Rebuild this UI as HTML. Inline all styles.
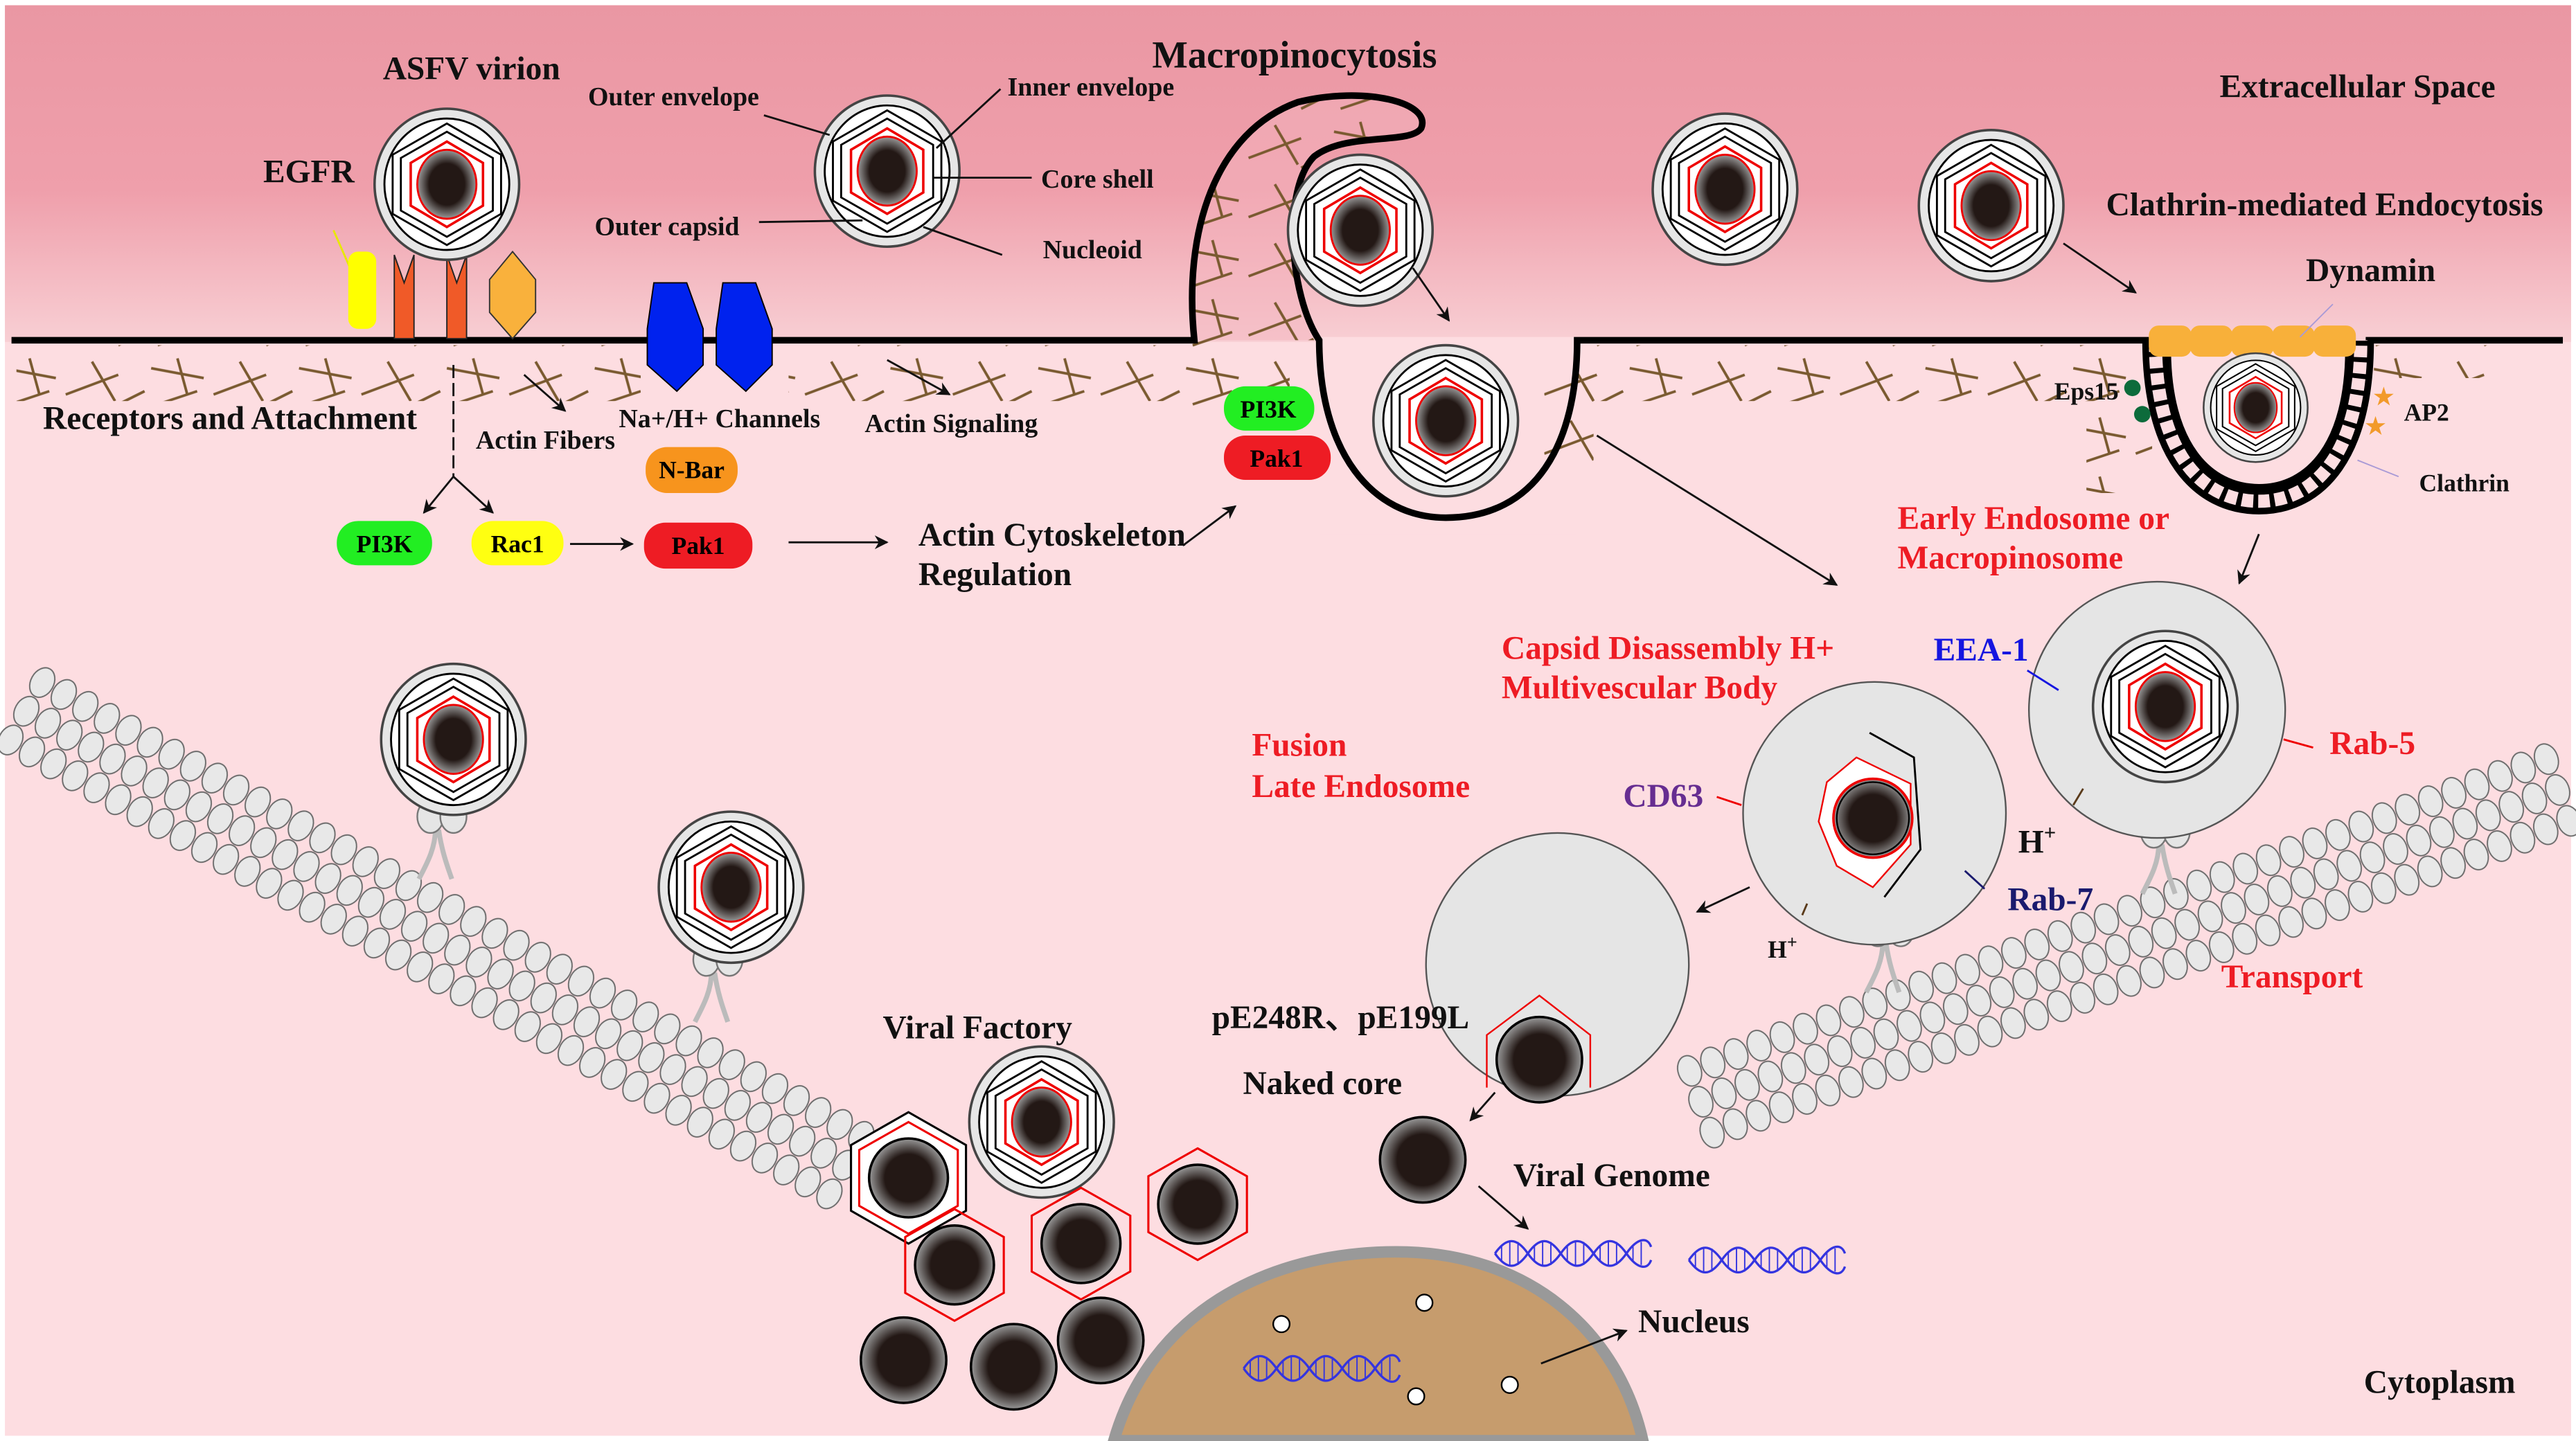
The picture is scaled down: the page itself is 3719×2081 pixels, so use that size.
<!DOCTYPE html>
<html><head><meta charset="utf-8"><style>
html,body{margin:0;padding:0;background:#fff;}
svg{display:block;}
text{font-family:"Liberation Serif",serif;font-weight:bold;}
</style></head><body>
<svg width="3719" height="2081" viewBox="0 0 1568 877" xmlns="http://www.w3.org/2000/svg">
<defs>
<linearGradient id="bgTop" x1="0" y1="0" x2="0" y2="1">
<stop offset="0" stop-color="#ea97a3"/><stop offset="0.55" stop-color="#ef9fab"/><stop offset="1" stop-color="#f8cfd4"/>
</linearGradient>
<radialGradient id="core" cx="0.5" cy="0.5" r="0.5">
<stop offset="0" stop-color="#231815"/><stop offset="0.6" stop-color="#231815"/><stop offset="1" stop-color="#9a9a9a"/>
</radialGradient>
<pattern id="actin" width="90" height="36" patternUnits="userSpaceOnUse">
<g stroke="#7a5a30" stroke-width="1.6" fill="none">
<line x1="2" y1="8" x2="34" y2="14"/><line x1="18" y1="2" x2="24" y2="24"/><line x1="40" y1="24" x2="72" y2="12"/>
<line x1="56" y1="4" x2="70" y2="28"/><line x1="6" y1="30" x2="30" y2="22"/><line x1="72" y1="30" x2="88" y2="22"/>
</g>
</pattern>
<pattern id="mt" width="15" height="20" patternUnits="userSpaceOnUse">
<ellipse cx="7.5" cy="10" rx="7" ry="9.5" fill="#e8e8e8" stroke="#6a6a6a" stroke-width="0.8"/>
</pattern>
<clipPath id="armclip"><path d="M727,207 C720,140 740,80 790,62 C830,52 872,62 865,78 C858,88 820,80 800,95 C780,115 785,180 800,207 Z"/></clipPath>
<marker id="ah" viewBox="0 0 10 10" refX="9" refY="5" markerWidth="7" markerHeight="7" orient="auto">
<path d="M0,0 L10,5 L0,10 L3,5 Z" fill="#111"/></marker>
<g id="vir">
<ellipse cx="0" cy="0" rx="44" ry="46" fill="#e6e6e6" stroke="#444" stroke-width="1.5"/>
<ellipse cx="0" cy="0" rx="38" ry="40" fill="#fff" stroke="#000" stroke-width="1.2"/>
<polygon points="0,-37 33,-18 33,18 0,37 -33,18 -33,-18" fill="#fff" stroke="#000" stroke-width="1.2"/>
<polygon points="0,-32 28,-16 28,16 0,32 -28,16 -28,-16" fill="#fff" stroke="#000" stroke-width="1.2"/>
<polygon points="0,-26 22,-13 22,13 0,26 -22,13 -22,-13" fill="#fff" stroke="#e00" stroke-width="1.5"/>
<ellipse cx="0" cy="0" rx="18" ry="21" fill="url(#core)" stroke="#e00" stroke-width="1.2"/>
</g>
<g id="hexcore">
<polygon points="0,-34 30,-17 30,17 0,34 -30,17 -30,-17" fill="none" stroke="#e00" stroke-width="1.3"/>
<circle cx="0" cy="0" r="24" fill="url(#core)" stroke="#000" stroke-width="1.5"/>
</g>
<g id="core1"><circle cx="0" cy="0" r="26" fill="url(#core)" stroke="#000" stroke-width="1.5"/></g>
<g id="motor">
<path d="M-4,0 C-4,12 -10,22 -14,30 M-2,0 C0,14 4,24 6,30" stroke="#bbb" stroke-width="3" fill="none"/>
<ellipse cx="-7" cy="-8" rx="8" ry="10" fill="#e5e5e5" stroke="#777"/>
<ellipse cx="7" cy="-8" rx="8" ry="10" fill="#e5e5e5" stroke="#777"/>
</g>
<g id="dna" stroke="#3434e0" stroke-width="1.4" fill="none">
<path d="M0,0 C7,-10 13,-10 20,0 S33,10 40,0 S53,-10 60,0 S73,10 80,0 S93,-10 95,-4"/>
<path d="M0,0 C7,10 13,10 20,0 S33,-10 40,0 S53,10 60,0 S73,-10 80,0 S93,10 95,4"/>
<path d="M4,-5 v10 M9,-7 v14 M14,-7 v14 M24,-5 v10 M29,-7 v14 M34,-7 v14 M44,-5 v10 M49,-7 v14 M54,-7 v14 M64,-5 v10 M69,-7 v14 M74,-7 v14 M84,-5 v10 M89,-7 v14" stroke-width="0.8"/>
</g>
</defs>

<rect width="1568" height="877" fill="#fff"/>
<rect x="3" y="3" width="1562" height="871" fill="#fddde1"/>
<rect x="3" y="3" width="1562" height="205" fill="url(#bgTop)"/>
<rect x="803" y="205" width="157" height="120" fill="#fddde1"/>

<!-- actin -->
<rect x="10" y="210" width="380" height="34" fill="url(#actin)"/>
<rect x="480" y="210" width="250" height="34" fill="url(#actin)"/>
<rect x="965" y="210" width="335" height="34" fill="url(#actin)"/>
<rect x="1445" y="210" width="80" height="20" fill="url(#actin)"/>
<rect x="725" y="205" width="60" height="45" fill="url(#actin)"/>
<rect x="940" y="225" width="30" height="60" fill="url(#actin)"/>
<rect x="1270" y="250" width="40" height="50" fill="url(#actin)"/>

<!-- macropinocytosis arm fill -->
<path d="M727,207 C720,140 740,80 790,62 C830,52 872,62 865,78 C858,88 820,80 800,95 C780,115 785,180 800,207 Z" fill="#f4b4bd" fill-opacity="0.5"/>
<g clip-path="url(#armclip)"><rect x="720" y="55" width="150" height="155" fill="url(#actin)"/></g>

<!-- membrane -->
<path d="M7,207 H727 C720,140 740,80 790,62 C830,52 872,62 865,78 C858,88 820,80 800,95 C780,115 785,180 803,207 C803,275 835,315 880,315 C935,315 960,270 960,207 H1308 M1440,207 H1560" fill="none" stroke="#000" stroke-width="4"/>
<!-- clathrin pit -->
<path d="M1312,207 C1312,275 1340,305 1375,305 C1410,305 1437,275 1437,207" fill="none" stroke="#000" stroke-width="16"/>
<path d="M1312,207 C1312,275 1340,305 1375,305 C1410,305 1437,275 1437,207" fill="none" stroke="#fddde1" stroke-width="8" stroke-dasharray="7 3"/>
<path d="M1320,212 C1320,270 1345,296 1375,296 C1405,296 1429,270 1429,212" fill="#fddde1" stroke="#000" stroke-width="3"/>
<g fill="#f8b03a">
<rect x="1308" y="198" width="26" height="19" rx="6"/><rect x="1333" y="198" width="26" height="19" rx="6"/>
<rect x="1358" y="198" width="26" height="19" rx="6"/><rect x="1383" y="198" width="26" height="19" rx="6"/><rect x="1408" y="198" width="26" height="19" rx="6"/>
</g>
<circle cx="1298" cy="236" r="5" fill="#0d6b3b"/><circle cx="1304" cy="252" r="5" fill="#0d6b3b"/>
<text x="1451" y="246" font-size="14" fill="#f29a2a" text-anchor="middle">★</text>
<text x="1446" y="264" font-size="14" fill="#f29a2a" text-anchor="middle">★</text>
<line x1="1420" y1="185" x2="1400" y2="205" stroke="#a99ad6" stroke-width="0.8"/>
<line x1="1435" y1="280" x2="1460" y2="290" stroke="#a99ad6" stroke-width="0.8"/>

<!-- receptors -->
<line x1="203" y1="140" x2="214" y2="165" stroke="#e8e800" stroke-width="1.2"/>
<rect x="212" y="153" width="17" height="47" rx="6" fill="#ffff00"/>
<path d="M240,155 L246,172 L252,155 V206 H240 Z" fill="#f05a28" stroke="#222" stroke-width="0.8"/>
<path d="M272,155 L278,172 L284,155 V206 H272 Z" fill="#f05a28" stroke="#222" stroke-width="0.8"/>
<polygon points="312,153 326,170 326,190 312,206 298,190 298,170" fill="#f9b13c" stroke="#333" stroke-width="0.8"/>
<!-- Na/H channels -->
<polygon points="398,172 418,172 428,200 428,222 412,238 394,222 394,200" fill="#0022ee" stroke="#000" stroke-width="0.8"/>
<polygon points="440,172 460,172 470,200 470,222 454,238 436,222 436,200" fill="#0022ee" stroke="#000" stroke-width="0.8"/>

<!-- microtubules -->
<g transform="translate(24,403) rotate(29)"><rect x="0" y="0" width="585" height="60" fill="url(#mt)"/></g>
<g transform="translate(1018,645) rotate(-20)"><rect x="0" y="0" width="570" height="60" fill="url(#mt)"/></g>

<!-- motors -->
<use href="#motor" x="269" y="505"/>
<use href="#motor" x="437" y="592"/>
<use href="#motor" x="1318" y="514"/>
<use href="#motor" x="1150" y="574"/>

<!-- endosomes -->
<circle cx="1313" cy="432" r="78" fill="#e5e5e5" stroke="#555" stroke-width="1"/>
<circle cx="1141" cy="495" r="80" fill="#e5e5e5" stroke="#555" stroke-width="1"/>
<circle cx="948" cy="587" r="80" fill="#e5e5e5" stroke="#555" stroke-width="1"/>
<path d="M1138,446 L1165,461 L1169,517 L1147,546" fill="none" stroke="#000" stroke-width="1.2"/>
<polygon points="1112,476 1130,461 1163,477 1163,514 1140,540 1118,527 1107,500" fill="#fff" stroke="#e00" stroke-width="1"/>
<circle cx="1140" cy="498" r="24" fill="url(#core)" stroke="#e00" stroke-width="1.5"/>
<circle cx="1140" cy="498" r="22" fill="none" stroke="#000" stroke-width="1"/>
<path d="M905,662 V630 L937,606 L968,630 V662" fill="none" stroke="#e00" stroke-width="1"/>
<use href="#core1" x="937" y="645"/>

<!-- virions -->
<use href="#vir" x="272" y="112"/>
<use href="#vir" x="540" y="104"/>
<use href="#vir" x="828" y="140"/>
<use href="#vir" x="880" y="256"/>
<use href="#vir" x="1050" y="115"/>
<use href="#vir" x="1212" y="125"/>
<use href="#vir" transform="translate(1373,248) scale(0.72)"/>
<use href="#vir" x="1318" y="430"/>
<use href="#vir" x="276" y="450"/>
<use href="#vir" x="445" y="540"/>
<use href="#vir" x="634" y="683"/>

<!-- viral factory -->
<polygon points="553,677 588,697 588,737 553,757 518,737 518,697" fill="#fff" stroke="#000" stroke-width="1.3"/>
<use href="#hexcore" x="553" y="717"/>
<use href="#hexcore" x="581" y="770"/>
<use href="#hexcore" x="658" y="757"/>
<use href="#hexcore" x="729" y="733"/>
<use href="#core1" x="550" y="828"/>
<use href="#core1" x="617" y="832"/>
<use href="#core1" x="670" y="816"/>
<use href="#core1" x="866" y="706"/>

<!-- nucleus -->
<path d="M678,877 C700,800 770,762 850,762 C930,762 985,810 1000,877 Z" fill="#c69c6d" stroke="#999" stroke-width="7"/>
<g fill="#fff" stroke="#000" stroke-width="1"><circle cx="780" cy="806" r="5"/><circle cx="867" cy="793" r="5"/><circle cx="862" cy="850" r="5"/><circle cx="919" cy="843" r="5"/></g>
<use href="#dna" x="910" y="763"/>
<use href="#dna" x="1028" y="767"/>
<use href="#dna" x="757" y="833"/>

<!-- connectors -->
<g stroke="#111" stroke-width="1.2" fill="none">
<line x1="465" y1="70" x2="505" y2="82"/>
<line x1="609" y1="54" x2="570" y2="90"/>
<line x1="568" y1="108" x2="628" y2="108"/>
<line x1="462" y1="135" x2="525" y2="134"/>
<line x1="562" y1="138" x2="610" y2="155"/>
<line x1="276" y1="222" x2="276" y2="290" stroke-dasharray="8 3"/>
<line x1="276" y1="290" x2="258" y2="312" marker-end="url(#ah)"/>
<line x1="276" y1="290" x2="300" y2="312" marker-end="url(#ah)"/>
<line x1="347" y1="331" x2="385" y2="331" marker-end="url(#ah)"/>
<line x1="480" y1="330" x2="540" y2="330" marker-end="url(#ah)"/>
<line x1="720" y1="332" x2="752" y2="308" marker-end="url(#ah)"/>
<line x1="319" y1="228" x2="344" y2="250" marker-end="url(#ah)"/>
<line x1="540" y1="219" x2="578" y2="240" marker-end="url(#ah)"/>
<line x1="860" y1="163" x2="882" y2="195" marker-end="url(#ah)"/>
<line x1="972" y1="265" x2="1118" y2="356" marker-end="url(#ah)"/>
<line x1="1256" y1="148" x2="1300" y2="178" marker-end="url(#ah)"/>
<line x1="1375" y1="325" x2="1363" y2="355" marker-end="url(#ah)"/>
<line x1="1065" y1="540" x2="1033" y2="555" marker-end="url(#ah)"/>
<line x1="910" y1="665" x2="895" y2="682" marker-end="url(#ah)"/>
<line x1="900" y1="722" x2="930" y2="748" marker-end="url(#ah)"/>
<line x1="938" y1="830" x2="990" y2="810" marker-end="url(#ah)"/>
<line x1="1268" y1="480" x2="1262" y2="490" stroke="#5a3a1a"/>
<line x1="1100" y1="550" x2="1097" y2="557" stroke="#5a3a1a"/>
</g>
<line x1="1234" y1="408" x2="1253" y2="420" stroke="#1515e0" stroke-width="1.2"/>
<line x1="1390" y1="450" x2="1408" y2="455" stroke="#e00" stroke-width="1.2"/>
<line x1="1045" y1="485" x2="1060" y2="490" stroke="#e00" stroke-width="1.2"/>
<line x1="1196" y1="530" x2="1208" y2="541" stroke="#1a1a6e" stroke-width="1.2"/>

<!-- pills -->
<g font-size="15" text-anchor="middle">
<rect x="205" y="317" width="58" height="27" rx="13" fill="#22ee22"/><text x="234" y="336">PI3K</text>
<rect x="287" y="317" width="56" height="27" rx="13" fill="#ffff11"/><text x="315" y="336">Rac1</text>
<rect x="392" y="318" width="66" height="28" rx="13" fill="#ee1c24"/><text x="425" y="337">Pak1</text>
<rect x="393" y="272" width="56" height="28" rx="13" fill="#f7941d"/><text x="421" y="291">N-Bar</text>
<rect x="745" y="235" width="55" height="27" rx="13" fill="#22ee22"/><text x="772" y="254">PI3K</text>
<rect x="745" y="265" width="65" height="27" rx="13" fill="#ee1c24"/><text x="777" y="284">Pak1</text>
</g>

<!-- labels -->
<g fill="#111">
<text x="287" y="48" font-size="20" text-anchor="middle">ASFV virion</text>
<text x="188" y="111" font-size="20" text-anchor="middle">EGFR</text>
<text x="410" y="64" font-size="16" text-anchor="middle">Outer envelope</text>
<text x="664" y="58" font-size="16" text-anchor="middle">Inner envelope</text>
<text x="668" y="114" font-size="16" text-anchor="middle">Core shell</text>
<text x="406" y="143" font-size="16" text-anchor="middle">Outer capsid</text>
<text x="665" y="157" font-size="16" text-anchor="middle">Nucleoid</text>
<text x="788" y="41" font-size="23" text-anchor="middle">Macropinocytosis</text>
<text x="1435" y="59" font-size="20" text-anchor="middle">Extracellular Space</text>
<text x="1415" y="131" font-size="20" text-anchor="middle">Clathrin-mediated Endocytosis</text>
<text x="1443" y="171" font-size="20" text-anchor="middle">Dynamin</text>
<text x="140" y="261" font-size="20" text-anchor="middle">Receptors and Attachment</text>
<text x="332" y="273" font-size="16" text-anchor="middle">Actin Fibers</text>
<text x="438" y="260" font-size="16" text-anchor="middle">Na+/H+ Channels</text>
<text x="579" y="263" font-size="16" text-anchor="middle">Actin Signaling</text>
<text x="1270" y="243" font-size="15" text-anchor="middle">Eps15</text>
<text x="1477" y="256" font-size="15" text-anchor="middle">AP2</text>
<text x="1500" y="299" font-size="15" text-anchor="middle">Clathrin</text>
<text x="559" y="332" font-size="20">Actin Cytoskeleton</text>
<text x="559" y="356" font-size="20">Regulation</text>
<text x="1240" y="519" font-size="20" text-anchor="middle">H<tspan font-size="13" dy="-8">+</tspan></text>
<text x="1085" y="583" font-size="15" text-anchor="middle">H<tspan font-size="11" dy="-6">+</tspan></text>
<text x="595" y="632" font-size="20" text-anchor="middle">Viral Factory</text>
<text x="816" y="626" font-size="20" text-anchor="middle">pE248R、pE199L</text>
<text x="805" y="666" font-size="20" text-anchor="middle">Naked core</text>
<text x="981" y="722" font-size="20" text-anchor="middle">Viral Genome</text>
<text x="1031" y="811" font-size="20" text-anchor="middle">Nucleus</text>
<text x="1485" y="848" font-size="20" text-anchor="middle">Cytoplasm</text>
</g>
<g fill="#ee1c24" font-size="20">
<text x="1155" y="322">Early Endosome or</text>
<text x="1155" y="346">Macropinosome</text>
<text x="914" y="401">Capsid Disassembly H+</text>
<text x="914" y="425">Multivescular Body</text>
<text x="1418" y="459">Rab-5</text>
<text x="762" y="460">Fusion</text>
<text x="762" y="485">Late Endosome</text>
<text x="1352" y="601">Transport</text>
</g>
<text x="1177" y="402" font-size="20" fill="#1515e0">EEA-1</text>
<text x="988" y="491" font-size="20" fill="#662d91">CD63</text>
<text x="1222" y="554" font-size="20" fill="#1a1a6e">Rab-7</text>
</svg>
</body></html>
